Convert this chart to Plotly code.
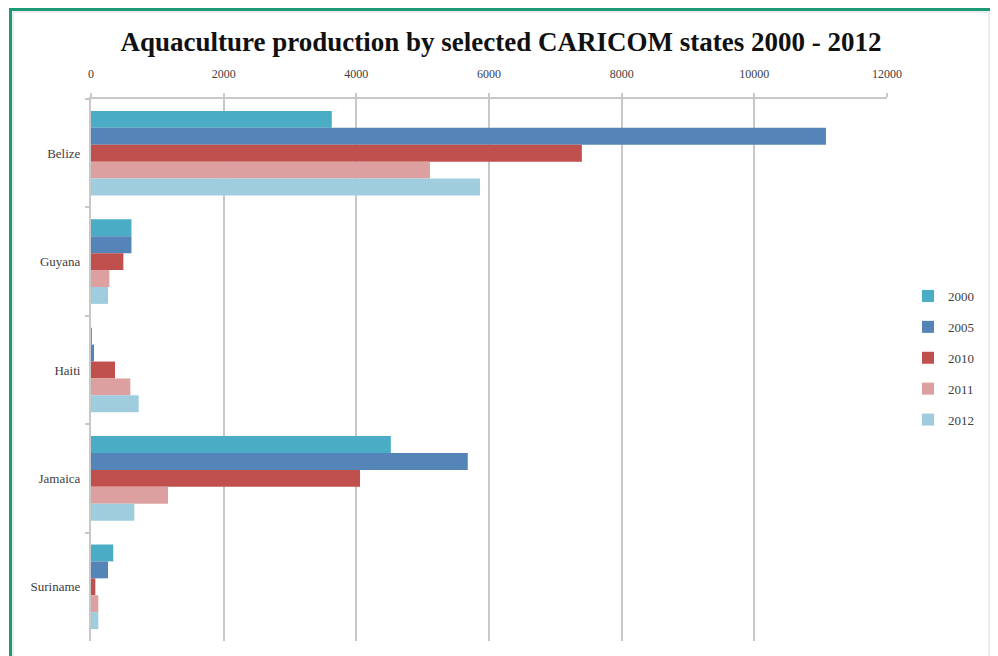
import plotly.graph_objects as go

countries = ["Belize", "Guyana", "Haiti", "Jamaica", "Suriname"]
years = ["2000", "2005", "2010", "2011", "2012"]
v2000 = [3630, 610, 15, 4520, 336]
v2005 = [11080, 610, 45, 5680, 256]
v2010 = [7400, 488, 362, 4056, 65]
v2011 = [5110, 277, 593, 1161, 110]
v2012 = [5865, 256, 719, 653, 110]
series = [v2000, v2005, v2010, v2011, v2012]
colors = ["#4BACC6", "#5585B8", "#C0504D", "#DBA09F", "#9FCDDE"]
xticks = [0, 2000, 4000, 6000, 8000, 10000, 12000]

# page offset of the figure inside the browser window
OX, OY = 8, 4
W, H = 998 - OX, 656 - 8
# desired screenshot-pixel edges of plot area
PL, PR, PT, PB = 91, 887, 95, 637
ml, mr, mt, mb = PL - OX, W - (PR - OX), PT - OY, H - (PB - OY)

fig = go.Figure()
for yr, vals, c in zip(years, series, colors):
    fig.add_trace(go.Bar(
        y=countries, x=vals, name=yr, orientation="h",
        marker=dict(color=c, line=dict(width=0)),
        legendgroup=yr,
    ))

pw = PR - PL
ph = PB - PT
def px2x(p):
    return (p - PL) / pw
def py2y(p):
    return (PB - p) / ph

serif = "Liberation Serif, DejaVu Serif, serif"
fig.update_layout(
    width=W, height=H,
    margin=dict(l=ml, r=mr, t=mt, b=mb, autoexpand=False),
    paper_bgcolor="white", plot_bgcolor="white",
    barmode="group", bargap=0.22, bargroupgap=0,
    title=dict(text="<b>Aquaculture production by selected CARICOM states 2000 - 2012</b>",
               x=(501 - OX) / W, xref="container", xanchor="center",
               y=1 - 34 / H, yref="container", yanchor="middle",
               font=dict(family=serif, size=27, color="#111111")),
    font=dict(family=serif, size=12, color="#404040"),
    legend=dict(x=px2x(908), xanchor="left", y=py2y(354), yanchor="middle",
                font=dict(family=serif, size=13, color="#404040"),
                tracegroupgap=11, itemwidth=30, bgcolor="rgba(0,0,0,0)"),
    showlegend=True,
)
fig.update_xaxes(
    side="top", range=[0, 12000], tickvals=xticks, ticktext=[str(t) for t in xticks],
    showgrid=True, gridcolor="#C8C8C8", gridwidth=2,
    showline=True, linecolor="#C8C8C8", linewidth=2,
    ticks="outside", ticklen=4, tickcolor="#C8C8C8", tickwidth=2,
    zeroline=False, fixedrange=True, ticklabelstandoff=10,
    tickfont=dict(family=serif, size=12, color="#404040"),
)
fig.update_yaxes(
    autorange="reversed", type="category",
    showline=True, linecolor="#C8C8C8", linewidth=2,
    ticks="outside", ticklen=4, tickcolor="#C8C8C8", tickwidth=2,
    tickson="boundaries", showgrid=False,
    tickfont=dict(family=serif, size=13, color="#404040"),
    ticklabelstandoff=6,
)

# frame around the chart
fig.add_shape(type="rect", xref="paper", yref="paper",
              x0=px2x(10.5), x1=px2x(991.5), y0=py2y(720), y1=py2y(5.5),
              line=dict(color="#1C9A78", width=3), fillcolor="rgba(0,0,0,0)", layer="above")
fig.add_shape(type="rect", xref="paper", yref="paper",
              x0=px2x(13), x1=px2x(989), y0=py2y(720), y1=py2y(8),
              line=dict(color="#D8D8D8", width=1), fillcolor="rgba(0,0,0,0)", layer="above")

fig.write_html("out.html")
